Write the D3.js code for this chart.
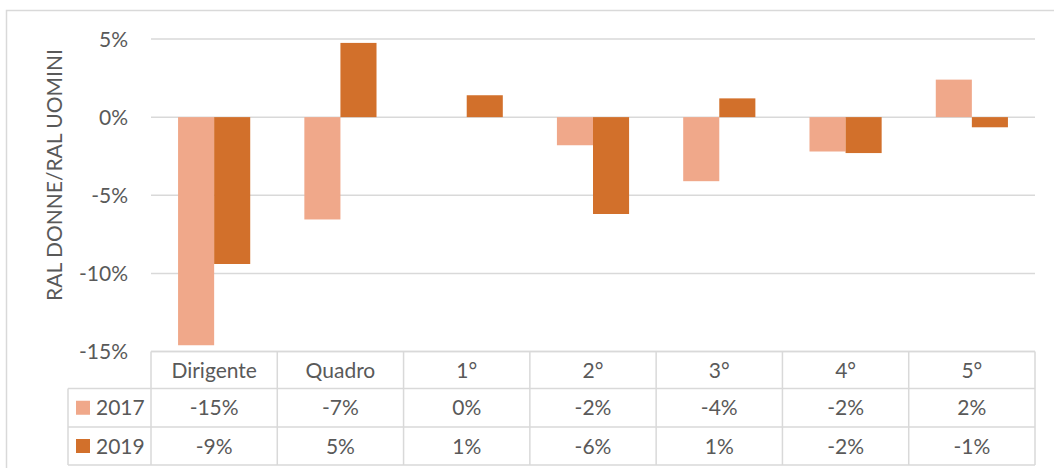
<!DOCTYPE html>
<html>
<head>
<meta charset="utf-8">
<script src="https://cdn.jsdelivr.net/npm/d3@7"></script>
<style>
  body { margin: 0; background: #fff; }
  svg text { font-family: Lato, "Open Sans", sans-serif; fill: #595959; }
</style>
</head>
<body>
<div id="chart"></div>
<script>
// data
const categories = ['Dirigente', 'Quadro', '1°', '2°', '3°', '4°', '5°'];
const seriesNames = ['2017', '2019'];
const values2017 = [-0.146, -0.0655, 0, -0.018, -0.041, -0.022, 0.024];
const values2019 = [-0.094, 0.0475, 0.014, -0.062, 0.012, -0.023, -0.0065];
const yTicks = [0.05, 0, -0.05, -0.1, -0.15];
const colors = ['#F0A88A', '#D2702B'];

const W = 1054, H = 468;
const plot = { left: 151, right: 1035, top: 39, bottom: 351.5 };
const legendLeft = 68;
const rowLines = [351.5, 388.5, 427, 465];
const fontSize = 21;

const fmt = (v) => {
  let r = Math.round(v * 100);
  if (r === 0) r = 0;
  return r + '%';
};

const svg = d3.select('#chart').append('svg')
  .attr('width', W)
  .attr('height', H);

// chart border
svg.append('rect')
  .attr('x', 6.5).attr('y', 10.5)
  .attr('width', 1100).attr('height', 500)
  .attr('fill', 'none')
  .attr('stroke', '#d9d9d9')
  .attr('stroke-width', 1.5);

let x = d3.scaleBand().domain(categories).range([plot.left, plot.right]);
let y = d3.scaleLinear().domain([-0.15, 0.05]).range([plot.bottom, plot.top]);

// gap width 150% like excel
const barW = x.bandwidth() / 3.5;
let xInner = d3.scaleBand().domain(seriesNames)
  .range([barW * 0.75, barW * 2.75]);

// gridlines
svg.append('g')
  .selectAll('line')
  .data(yTicks)
  .join('line')
  .attr('x1', plot.left).attr('x2', plot.right)
  .attr('y1', (d) => y(d)).attr('y2', (d) => y(d))
  .attr('stroke', '#d9d9d9')
  .attr('stroke-width', 1.5);

// y tick labels
let yAxis = d3.axisLeft(y).tickValues(yTicks).tickFormat(fmt).tickSize(0).tickPadding(0);
let ga = svg.append('g')
  .attr('transform', 'translate(128,0)')
  .call(yAxis);
ga.select('.domain').remove();
ga.selectAll('text')
  .attr('font-size', fontSize)
  .attr('font-family', 'Lato, sans-serif')
  .attr('fill', '#595959')
  .attr('dy', '0.34em');

// axis title
svg.append('text')
  .attr('transform', 'translate(62,175) rotate(-90)')
  .attr('text-anchor', 'middle')
  .attr('font-size', fontSize)
  .text('RAL DONNE/RAL UOMINI');

// bars
const allSeries = [values2017, values2019];
allSeries.forEach((vals, si) => {
  svg.append('g')
    .selectAll('rect')
    .data(vals)
    .join('rect')
    .attr('x', (d, i) => x(categories[i]) + xInner(seriesNames[si]))
    .attr('width', xInner.bandwidth())
    .attr('y', (d) => y(Math.max(0, d)))
    .attr('height', (d) => Math.abs(y(d) - y(0)))
    .attr('fill', colors[si]);
});

// data table
const table = svg.append('g');
const lineColor = '#d9d9d9';

table.selectAll('.hline')
  .data(rowLines)
  .join('line')
  .attr('x1', (d, i) => (i === 0 ? plot.left : legendLeft))
  .attr('x2', plot.right)
  .attr('y1', (d) => d).attr('y2', (d) => d)
  .attr('stroke', lineColor)
  .attr('stroke-width', 1.5);

const colEdges = categories.map((c) => x(c)).concat([plot.right]);
table.selectAll('.vline')
  .data(colEdges)
  .join('line')
  .attr('x1', (d) => d).attr('x2', (d) => d)
  .attr('y1', rowLines[0]).attr('y2', rowLines[3])
  .attr('stroke', lineColor)
  .attr('stroke-width', 1.5);

table.append('line')
  .attr('x1', legendLeft).attr('x2', legendLeft)
  .attr('y1', rowLines[1]).attr('y2', rowLines[3])
  .attr('stroke', lineColor)
  .attr('stroke-width', 1.5);

// header row
table.selectAll('.cat')
  .data(categories)
  .join('text')
  .attr('x', (d) => x(d) + x.bandwidth() / 2)
  .attr('y', (rowLines[0] + rowLines[1]) / 2)
  .attr('dy', '0.36em')
  .attr('text-anchor', 'middle')
  .attr('font-size', fontSize)
  .text((d) => d);

// value rows
allSeries.forEach((vals, si) => {
  const cy = (rowLines[si + 1] + rowLines[si + 2]) / 2;
  table.append('rect')
    .attr('x', 76).attr('y', cy - 7)
    .attr('width', 14).attr('height', 14)
    .attr('fill', colors[si]);
  table.append('text')
    .attr('x', 96).attr('y', cy)
    .attr('dy', '0.36em')
    .attr('font-size', fontSize)
    .text(seriesNames[si]);
  table.append('g')
    .selectAll('text')
    .data(vals)
    .join('text')
    .attr('x', (d, i) => x(categories[i]) + x.bandwidth() / 2)
    .attr('y', cy)
    .attr('dy', '0.36em')
    .attr('text-anchor', 'middle')
    .attr('font-size', fontSize)
    .text((d) => fmt(d));
});
</script>
</body>
</html>
